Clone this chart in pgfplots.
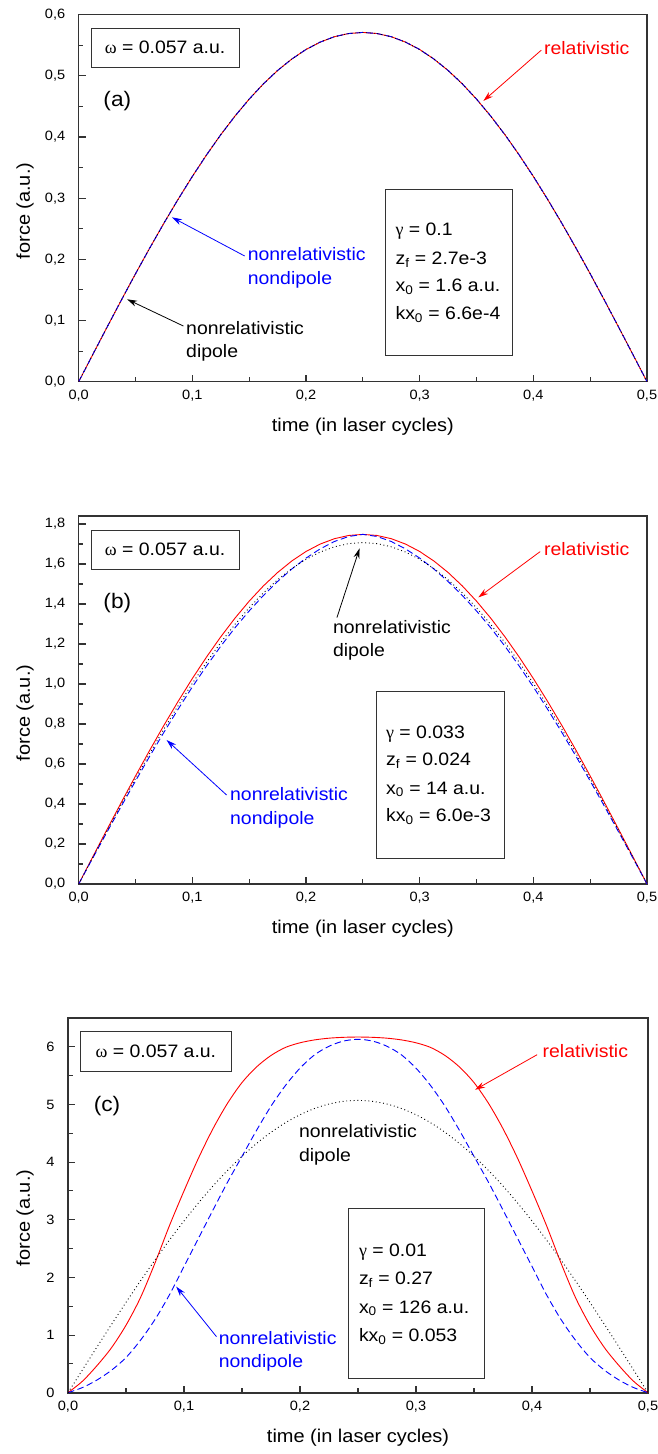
\documentclass[border=0pt]{standalone}
\usepackage{fontspec}
\setmainfont[FakeStretch=1.08]{Liberation Sans}
\newfontfamily\grk{Liberation Serif}
\usepackage{pgfplots}
\usepackage{pgfplotstable}
\pgfplotsset{compat=1.18}
\usetikzlibrary{arrows.meta}

\newcommand\ftick{\fontsize{13.5}{15}\selectfont}
\newcommand\flab{\fontsize{18.5}{21}\selectfont}
\newcommand\fann{\fontsize{18}{20}\selectfont}
\newcommand\fpan{\fontsize{21}{24}\selectfont}

\pgfplotstableread{
t f
0 0
0.0125 0.0448
0.025 0.0893
0.0375 0.1333
0.05 0.1765
0.0625 0.2185
0.075 0.2592
0.0875 0.2983
0.1 0.3356
0.1125 0.3708
0.125 0.4038
0.1375 0.4342
0.15 0.4620
0.1625 0.4869
0.175 0.5088
0.1875 0.5275
0.2 0.5431
0.2125 0.5552
0.225 0.5640
0.2375 0.5692
0.25 0.5710
0.2625 0.5692
0.275 0.5640
0.2875 0.5552
0.3 0.5431
0.3125 0.5275
0.325 0.5088
0.3375 0.4869
0.35 0.4620
0.3625 0.4342
0.375 0.4038
0.3875 0.3708
0.4 0.3356
0.4125 0.2983
0.425 0.2592
0.4375 0.2185
0.45 0.1765
0.4625 0.1333
0.475 0.0893
0.4875 0.0448
0.5 0
}\tabA

\pgfplotstableread{
t rel nd dip
0 0 0 0
0.0125 0.1371 0.1311 0.1339
0.025 0.2734 0.2604 0.2670
0.0375 0.4081 0.3891 0.3985
0.05 0.5402 0.5152 0.5275
0.0625 0.6689 0.6389 0.6532
0.075 0.7936 0.7586 0.7750
0.0875 0.9133 0.8743 0.8919
0.1 1.0275 0.9855 1.0034
0.1125 1.1352 1.0902 1.1086
0.125 1.2360 1.1890 1.2070
0.1375 1.3292 1.2812 1.2980
0.15 1.4142 1.3652 1.3810
0.1625 1.4904 1.4424 1.4555
0.175 1.5575 1.5125 1.5210
0.1875 1.6150 1.5750 1.5771
0.2 1.6625 1.6295 1.6235
0.2125 1.6997 1.6757 1.6598
0.225 1.7265 1.7125 1.6860
0.2375 1.7426 1.7376 1.7018
0.25 1.7480 1.7480 1.7070
0.2625 1.7426 1.7376 1.7018
0.275 1.7265 1.7125 1.6860
0.2875 1.6997 1.6757 1.6598
0.3 1.6625 1.6295 1.6235
0.3125 1.6150 1.5750 1.5771
0.325 1.5575 1.5125 1.5210
0.3375 1.4904 1.4424 1.4555
0.35 1.4142 1.3652 1.3810
0.3625 1.3292 1.2812 1.2980
0.375 1.2360 1.1890 1.2070
0.3875 1.1352 1.0902 1.1086
0.4 1.0275 0.9855 1.0034
0.4125 0.9133 0.8743 0.8919
0.425 0.7936 0.7586 0.7750
0.4375 0.6689 0.6389 0.6532
0.45 0.5402 0.5152 0.5275
0.4625 0.4081 0.3891 0.3985
0.475 0.2734 0.2604 0.2670
0.4875 0.1371 0.1311 0.1339
0.5 0 0 0
}\tabB

\pgfplotstableread{
t rel nd dip
0 0 0 0
0.0125 0.20 0.09 0.3978
0.025 0.47 0.22 0.7931
0.0375 0.78 0.39 1.1836
0.05 1.17 0.61 1.5667
0.0625 1.65 0.91 1.9402
0.075 2.25 1.27 2.3017
0.0875 2.90 1.70 2.6491
0.1 3.50 2.19 2.9801
0.1125 4.07 2.68 3.2927
0.125 4.58 3.17 3.5850
0.1375 5.02 3.65 3.8553
0.15 5.38 4.10 4.1017
0.1625 5.65 4.55 4.3229
0.175 5.85 4.97 4.5174
0.1875 5.99 5.33 4.6841
0.2 6.07 5.63 4.8219
0.2125 6.12 5.86 4.9299
0.225 6.15 6.01 5.0076
0.2375 6.165 6.10 5.0544
0.25 6.17 6.13 5.0700
0.2625 6.165 6.10 5.0544
0.275 6.15 6.01 5.0076
0.2875 6.12 5.86 4.9299
0.3 6.07 5.63 4.8219
0.3125 5.99 5.33 4.6841
0.325 5.85 4.97 4.5174
0.3375 5.65 4.55 4.3229
0.35 5.38 4.10 4.1017
0.3625 5.02 3.65 3.8553
0.375 4.58 3.17 3.5850
0.3875 4.07 2.68 3.2927
0.4 3.50 2.19 2.9801
0.4125 2.90 1.70 2.6491
0.425 2.25 1.27 2.3017
0.4375 1.65 0.91 1.9402
0.45 1.17 0.61 1.5667
0.4625 0.78 0.39 1.1836
0.475 0.47 0.22 0.7931
0.4875 0.20 0.09 0.3978
0.5 0 0 0
}\tabC

\tikzset{
  arr/.style={line width=0.8pt, -{Stealth[length=10pt,width=6pt]}},
  bx/.style={line width=0.9pt, black!80},
  tx/.style={font=\fann, inner sep=0pt, anchor=west},
}
\pgfplotsset{
  myax/.style={
    scale only axis, xmin=0, xmax=0.5, ymin=0,
    xtick={0,0.1,0.2,0.3,0.4,0.5}, minor x tick num=1, minor y tick num=1,
    tick align=inside, xtick pos=bottom, ytick pos=left,
    axis line style={line width=1.6pt, black!80},
    major tick length=7pt, minor tick length=4.5pt,
    major tick style={line width=1.1pt, black!80},
    minor tick style={line width=1.1pt, black!80},
    tick label style={font=\ftick},
    /pgf/number format/assume math mode=true,
    x tick label style={/pgf/number format/.cd, fixed, fixed zerofill, precision=1, use comma, /tikz/.cd, yshift=-5pt},
    y tick label style={xshift=-10pt},
    clip=false,
  },
  yc/.style={y tick label style={/pgf/number format/.cd, fixed, fixed zerofill, precision=1, use comma, /tikz/.cd}},
  rel/.style={red, line width=0.9pt},
  nd/.style={blue, line width=0.9pt, dash pattern=on 6.5pt off 3.5pt},
  dip/.style={black, line width=0.9pt, dash pattern=on 0.9pt off 2.8pt},
}

\begin{document}
\begin{tikzpicture}
\useasboundingbox (0,0) rectangle (658pt,1454pt);

% ---------------- panel (a)
\begin{axis}[myax, yc, at={(78.7pt,1072.3pt)}, anchor=south west,
  width=568.3pt, height=367pt, ymax=0.6,
  ytick={0,0.1,0.2,0.3,0.4,0.5,0.6}]
\addplot[rel] table[x=t,y=f]{\tabA};
\addplot[nd] table[x=t,y=f]{\tabA};
\addplot[dip] table[x=t,y=f]{\tabA};
\draw[bx] (axis cs:0.0113,0.514) rectangle (axis cs:0.141,0.578);
\node[font=\fann] at (axis cs:0.076,0.546) {{\grk ω} = 0.057 a.u.};
\node[font=\fpan] at (axis cs:0.034,0.458) {(a)};
\node[font=\fann, text=red] at (axis cs:0.447,0.545) {relativistic};
\draw[arr, red] (axis cs:0.407,0.542) -- (axis cs:0.356,0.459);
\node[tx, text=blue] at (axis cs:0.1486,0.2088) {nonrelativistic};
\node[tx, text=blue] at (axis cs:0.1486,0.166) {nondipole};
\draw[arr, blue] (axis cs:0.146,0.2055) -- (axis cs:0.0821,0.2687);
\node[tx] at (axis cs:0.0944,0.0873) {nonrelativistic};
\node[tx] at (axis cs:0.0944,0.0474) {dipole};
\draw[arr, black] (axis cs:0.0921,0.091) -- (axis cs:0.0426,0.1347);
\draw[bx] (axis cs:0.2697,0.0431) rectangle (axis cs:0.3819,0.3145);
\node[tx] at (axis cs:0.2786,0.2463) {{\grk γ} = 0.1};
\node[tx] at (axis cs:0.2786,0.2) {z\textsubscript{f} = 2.7e-3};
\node[tx] at (axis cs:0.2786,0.1553) {x\textsubscript{0} = 1.6 a.u.};
\node[tx] at (axis cs:0.2786,0.1101) {kx\textsubscript{0} = 6.6e-4};
\end{axis}
\node[font=\flab, rotate=90] at (25pt,1243pt) {force (a.u.)};
\node[font=\flab] at (362.8pt,1027pt) {time (in laser cycles)};

% ---------------- panel (b)
\begin{axis}[myax, yc, at={(78.7pt,570pt)}, anchor=south west,
  width=568.3pt, height=368pt, ymax=1.84,
  ytick={0,0.2,0.4,0.6,0.8,1.0,1.2,1.4,1.6,1.8}]
\addplot[rel] table[x=t,y=rel]{\tabB};
\addplot[nd] table[x=t,y=nd]{\tabB};
\addplot[dip] table[x=t,y=dip]{\tabB};
\draw[bx] (axis cs:0.0113,1.575) rectangle (axis cs:0.141,1.77);
\node[font=\fann] at (axis cs:0.076,1.672) {{\grk ω} = 0.057 a.u.};
\node[font=\fpan] at (axis cs:0.034,1.407) {(b)};
\node[font=\fann, text=red] at (axis cs:0.447,1.675) {relativistic};
\draw[arr, red] (axis cs:0.406,1.662) -- (axis cs:0.3516,1.433);
\node[tx] at (axis cs:0.2236,1.287) {nonrelativistic};
\node[tx] at (axis cs:0.2236,1.162) {dipole};
\draw[arr, black] (axis cs:0.2272,1.332) -- (axis cs:0.2471,1.678);
\node[tx, text=blue] at (axis cs:0.1331,0.45) {nonrelativistic};
\node[tx, text=blue] at (axis cs:0.1331,0.32) {nondipole};
\draw[arr, blue] (axis cs:0.1301,0.445) -- (axis cs:0.0773,0.72);
\draw[bx] (axis cs:0.2623,0.1283) rectangle (axis cs:0.3745,0.9617);
\node[tx] at (axis cs:0.2703,0.748) {{\grk γ} = 0.033};
\node[tx] at (axis cs:0.2703,0.615) {z\textsubscript{f} = 0.024};
\node[tx] at (axis cs:0.2703,0.473) {x\textsubscript{0} = 14 a.u.};
\node[tx] at (axis cs:0.2703,0.337) {kx\textsubscript{0} = 6.0e-3};
\end{axis}
\node[font=\flab, rotate=90] at (25pt,741pt) {force (a.u.)};
\node[font=\flab] at (362.8pt,525pt) {time (in laser cycles)};

% ---------------- panel (c)
\begin{axis}[myax, at={(68pt,61.3pt)}, anchor=south west,
  width=580pt, height=374.7pt, ymax=6.5,
  ytick={0,1,2,3,4,5,6}]
\addplot[rel, smooth] table[x=t,y=rel]{\tabC};
\addplot[nd, smooth] table[x=t,y=nd]{\tabC};
\addplot[dip, smooth] table[x=t,y=dip]{\tabC};
\draw[bx] (axis cs:0.0109,5.57) rectangle (axis cs:0.1407,6.27);
\node[font=\fann] at (axis cs:0.0758,5.92) {{\grk ω} = 0.057 a.u.};
\node[font=\fpan] at (axis cs:0.0336,4.965) {(c)};
\node[font=\fann, text=red] at (axis cs:0.446,5.92) {relativistic};
\draw[arr, red] (axis cs:0.4044,5.863) -- (axis cs:0.3509,5.255);
\node[tx] at (axis cs:0.199,4.543) {nonrelativistic};
\node[tx] at (axis cs:0.199,4.097) {dipole};
\node[tx, text=blue] at (axis cs:0.1298,0.955) {nonrelativistic};
\node[tx, text=blue] at (axis cs:0.1298,0.51) {nondipole};
\draw[arr, blue] (axis cs:0.128,0.972) -- (axis cs:0.0933,1.84);
\draw[bx] (axis cs:0.2417,0.25) rectangle (axis cs:0.3592,3.189);
\node[tx] at (axis cs:0.2507,2.437) {{\grk γ} = 0.01};
\node[tx] at (axis cs:0.2507,1.957) {z\textsubscript{f} = 0.27};
\node[tx] at (axis cs:0.2507,1.465) {x\textsubscript{0} = 126 a.u.};
\node[tx] at (axis cs:0.2507,0.972) {kx\textsubscript{0} = 0.053};
\end{axis}
\node[font=\flab, rotate=90] at (25pt,236pt) {force (a.u.)};
\node[font=\flab] at (358pt,16pt) {time (in laser cycles)};
\end{tikzpicture}
\end{document}
